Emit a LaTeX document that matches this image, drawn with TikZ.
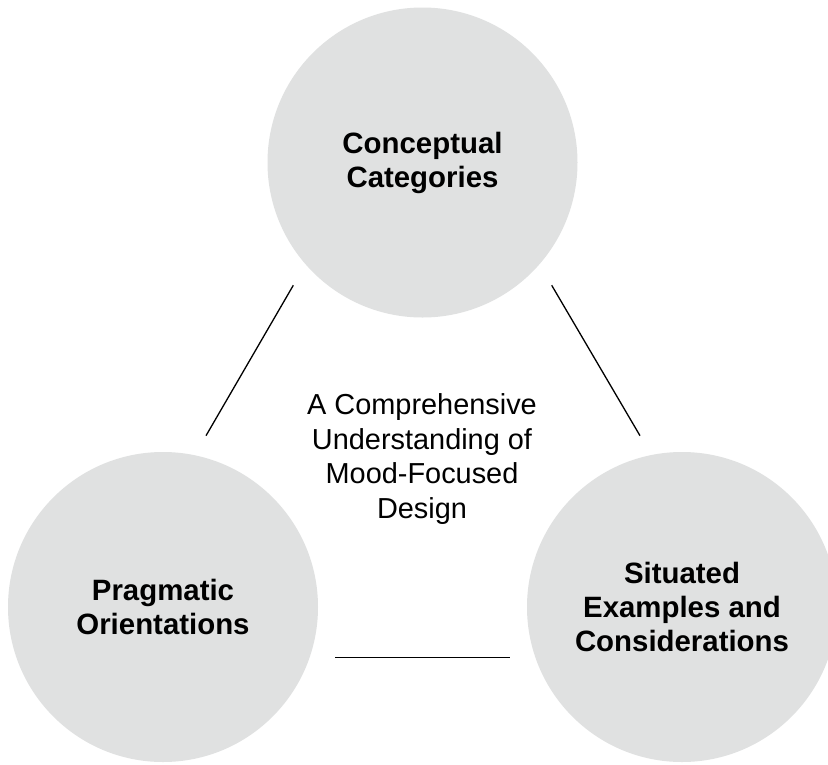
\documentclass[tikz,border=0pt]{standalone}
\usepackage{fontspec}
\setmainfont{Liberation Sans}
\definecolor{circfill}{HTML}{E0E1E1}
\begin{document}
\begin{tikzpicture}[x=1pt,y=-1pt,
  topic/.style={circle, fill=circfill, draw=none, inner sep=0pt, minimum size=310pt,
    align=center, text=black, font=\fontsize{29.4}{34}\selectfont\bfseries},
  centre/.style={align=center, inner sep=0pt, text=black, font=\fontsize{28.9}{34.5}\selectfont},
  link/.style={draw=black, line width=1.3pt}]
\useasboundingbox (0,0) rectangle (828,764);
\fill[white] (0,0) rectangle (828,764);
\node[topic] (cc) at (422.5,162.5) {Conceptual\\Categories};
\node[topic] (po) at (163,607) {Pragmatic\\Orientations};
\node[topic] (se) at (682,607) {Situated\\Examples and\\Considerations};
\node[centre] (mid) at (422,459) {A Comprehensive\\Understanding of\\Mood-Focused\\Design};
\coordinate (l1a) at (293.3,285.3);
\coordinate (l1b) at (206,435.7);
\coordinate (l2a) at (551.7,285.3);
\coordinate (l2b) at (640,435.7);
\coordinate (l3a) at (335,657.7);
\coordinate (l3b) at (510,657.7);
\draw[link] (l1a) -- (l1b);
\draw[link] (l2a) -- (l2b);
\draw[link] (l3a) -- (l3b);
\end{tikzpicture}
\end{document}
